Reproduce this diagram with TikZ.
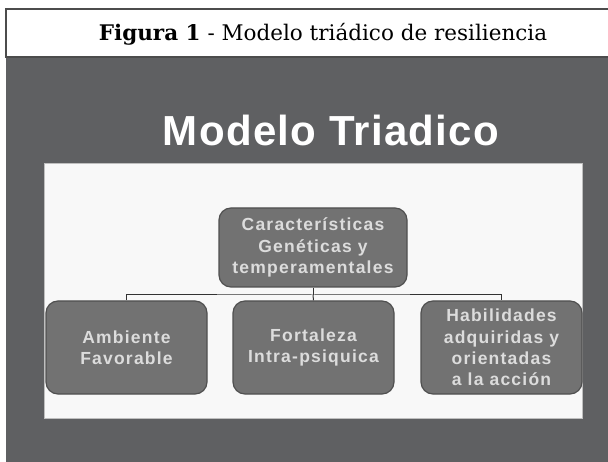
\documentclass[tikz,border=0pt]{standalone}
\usepackage{fontspec}
\setmainfont{DejaVu Serif}
\newfontfamily\nodefont[LetterSpace=7]{Liberation Sans}
\newfontfamily\headfont[LetterSpace=3]{Liberation Sans}
\definecolor{panel}{HTML}{5F6062}
\definecolor{boxfill}{HTML}{727272}
\definecolor{boxedge}{HTML}{505050}
\definecolor{boxtext}{HTML}{DCDCDC}
\definecolor{paper}{HTML}{F8F8F8}
\tikzset{
  block/.style={draw=boxedge, line width=1.2pt, fill=boxfill, rounded corners=12pt,
    text=boxtext, align=center, font=\nodefont\bfseries\fontsize{17.5}{21.3}\selectfont,
    inner sep=0pt},
  link/.style={draw=black!80, line width=1pt}
}
\begin{document}
\begin{tikzpicture}[x=1pt,y=-1pt]
\useasboundingbox (0,0) rectangle (608,462);
\fill[white] (0,0) rectangle (608,462);
% dark panel
\fill[panel] (6,57) rectangle (608,462);
% title box
\draw[draw=black!70, line width=1.2pt, fill=white] (6,9) rectangle (609,57);
\node[font=\fontsize{21.5}{26}\selectfont] (title) at (323,34) {\textbf{Figura 1} - Modelo triádico de resiliencia};
% heading
\node[font=\headfont\bfseries\fontsize{42}{50}\selectfont, text=white] (head) at (331,130) {Modelo Triadico};
% white inner box
\draw[draw=black!25, line width=0.8pt, fill=paper] (44,163) rectangle (582,418);
% nodes
\node[block, minimum width=188pt, minimum height=79pt] (top) at (313,247.5) {Características\\Genéticas y\\temperamentales};
\node[block, minimum width=161pt, minimum height=93pt] (left) at (126.5,347.5) {Ambiente\\Favorable};
\node[block, minimum width=161pt, minimum height=93pt] (mid) at (313.5,347.5) {Fortaleza\\Intra-psiquica};
\node[block, minimum width=161pt, minimum height=93pt] (right) at (501.5,347.5) {Habilidades\\adquiridas y\\orientadas\\a la acción};
% connectors
\coordinate (bus) at (313,295);
\draw[link] (top.south) -- (bus);
\draw[link] (left.north) |- (bus) -| (right.north);
\draw[link] (bus) -- (mid.north);
\end{tikzpicture}
\end{document}
